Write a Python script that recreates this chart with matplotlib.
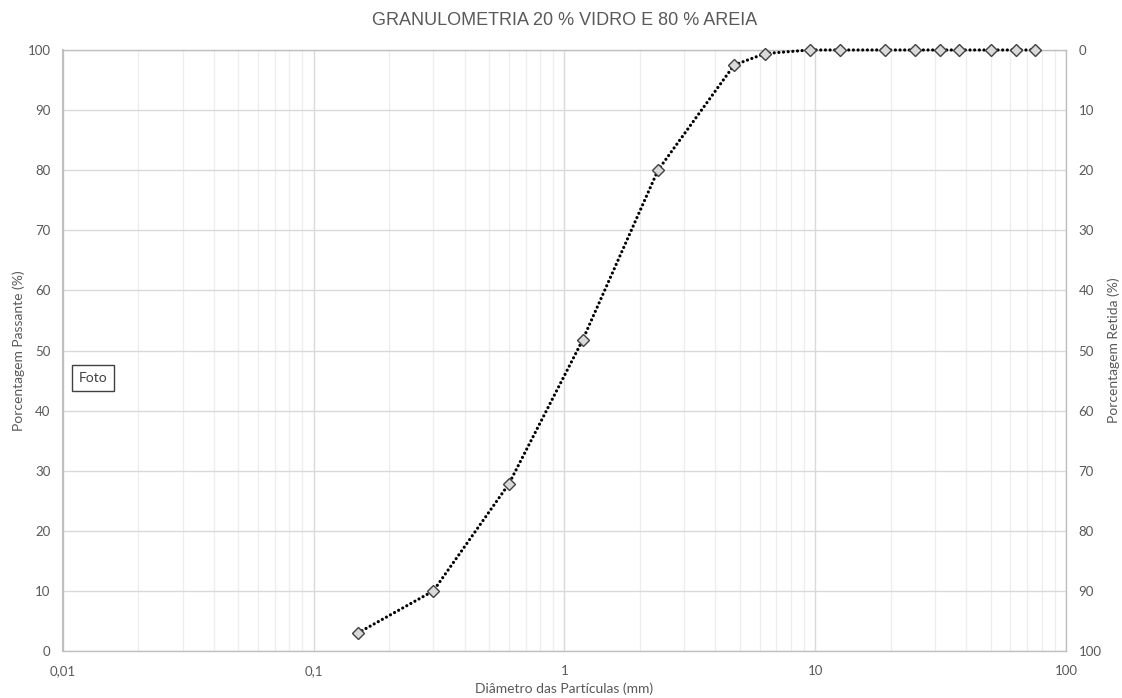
import numpy as np
import matplotlib.pyplot as plt
from matplotlib.ticker import FixedLocator, LogLocator, NullFormatter

# peneiras (mm) e porcentagem passante
diametro = [0.15, 0.3, 0.6, 1.18, 2.36, 4.75, 6.3, 9.5, 12.5, 19, 25, 31.5, 37.5, 50, 63, 75]
passante = [3.0, 10.0, 27.8, 51.7, 80.0, 97.5, 99.4, 100, 100, 100, 100, 100, 100, 100, 100, 100]

x_ticks = [0.01, 0.1, 1, 10, 100]
x_labels = ["0,01", "0,1", "1", "10", "100"]
y_ticks = list(range(0, 101, 10))

TXT = "#595959"
plt.rcParams['font.family'] = ['Lato', 'DejaVu Sans']

fig = plt.figure(figsize=(11.22, 6.98), dpi=100)
ax = fig.add_axes([0.0561, 0.0673, 0.8940, 0.8611])

ax.plot(diametro, passante, color="black", linewidth=2.3,
        linestyle=(0, (0.01, 1.45)), dash_capstyle="round", zorder=3, clip_on=False)
ax.plot(diametro, passante, linestyle="none", marker="D", markersize=6,
        markerfacecolor="#d9d9d9", markeredgecolor="#404040", markeredgewidth=1.0,
        zorder=4, clip_on=False)

ax.set_xscale("log")
ax.set_xlim(0.01, 100)
ax.set_ylim(0, 100)
ax.xaxis.set_major_locator(FixedLocator(x_ticks))
ax.set_xticklabels(x_labels)
ax.xaxis.set_minor_locator(LogLocator(base=10, subs=np.arange(2, 10)))
ax.xaxis.set_minor_formatter(NullFormatter())
ax.set_yticks(y_ticks)

ax.grid(which="major", color="#d9d9d9", linewidth=1.0)
ax.grid(which="minor", axis="x", color="#eeeeee", linewidth=0.9)
ax.set_axisbelow(True)
for s in ax.spines.values():
    s.set_color("#bfbfbf")
    s.set_linewidth(1.0)
ax.spines["left"].set_linewidth(1.5)

ax.tick_params(which="both", length=0, labelsize=9.5, colors=TXT)
ax.tick_params(axis="x", pad=10)
ax.tick_params(axis="y", pad=9)

ax.set_xlabel("Diâmetro das Partículas (mm)", fontsize=10, color=TXT, labelpad=4)
ax.set_ylabel("Porcentagem Passante (%)", fontsize=10, color=TXT, labelpad=1.5)

ax2 = ax.twinx()
ax2.set_ylim(100, 0)
ax2.set_yticks(y_ticks)
ax2.tick_params(length=0, labelsize=9.5, colors=TXT, pad=9)
for s in ax2.spines.values():
    s.set_visible(False)
ax2.set_ylabel("Porcentagem Retida (%)", fontsize=10, color=TXT, labelpad=4)

ax.text(0.030, 0.454, "Foto", transform=ax.transAxes, fontsize=10, color="#404040",
        ha="center", va="center",
        bbox=dict(boxstyle="square,pad=0.5", facecolor="white", edgecolor="#404040", linewidth=1.0))

fig.suptitle("GRANULOMETRIA 20 % VIDRO E 80 % AREIA", x=0.503, y=0.971, va="center",
             fontsize=13, color=TXT, family="Liberation Sans")

fig.savefig("out.png", dpi=100)
